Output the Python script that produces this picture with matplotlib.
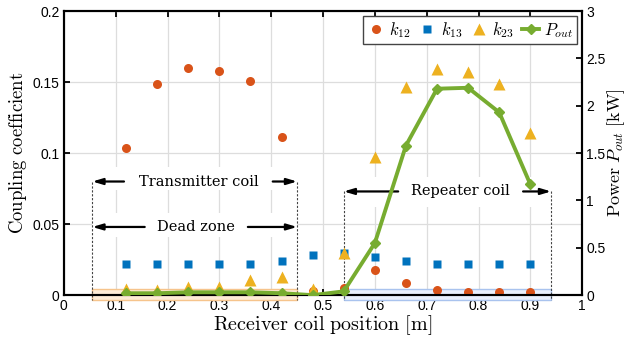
import matplotlib

matplotlib.use("Agg")
import matplotlib.pyplot as plt
from matplotlib.patches import Rectangle

# receiver positions [m]
position = [0.12, 0.18, 0.24, 0.30, 0.36, 0.42, 0.48, 0.54, 0.60, 0.66, 0.72, 0.78, 0.84, 0.90]
k12 = [0.1035, 0.149, 0.160, 0.158, 0.151, 0.111, 0.003, 0.005, 0.018, 0.0085, 0.0035, 0.0023, 0.0023, 0.0023]
k13 = [0.022, 0.022, 0.022, 0.022, 0.022, 0.024, 0.028, 0.0295, 0.027, 0.024, 0.022, 0.022, 0.022, 0.022]
k23 = [0.004, 0.0035, 0.006, 0.006, 0.0105, 0.0127, 0.004, 0.030, 0.097, 0.1465, 0.159, 0.157, 0.149, 0.114]
p_out = [0.02, 0.02, 0.03, 0.03, 0.03, 0.02, 0.0, 0.04, 0.55, 1.58, 2.18, 2.19, 1.93, 1.17]

x_ticks = [0, 0.1, 0.2, 0.3, 0.4, 0.5, 0.6, 0.7, 0.8, 0.9, 1]
x_labels = ["0", "0.1", "0.2", "0.3", "0.4", "0.5", "0.6", "0.7", "0.8", "0.9", "1"]
k_ticks = [0, 0.05, 0.1, 0.15, 0.2]
k_labels = ["0", "0.05", "0.1", "0.15", "0.2"]
p_ticks = [0, 0.5, 1, 1.5, 2, 2.5, 3]
p_labels = ["0", "0.5", "1", "1.5", "2", "2.5", "3"]

C_K12 = "#D95319"
C_K13 = "#0072BD"
C_K23 = "#EDB120"
C_POUT = "#77AC30"

plt.rcParams.update(
    {
        "font.family": "Liberation Sans",
        "font.size": 10,
        "mathtext.fontset": "cm",
        "xtick.direction": "in",
        "ytick.direction": "in",
        "xtick.major.size": 4,
        "ytick.major.size": 4,
        "xtick.major.width": 1.3,
        "ytick.major.width": 1.3,
    }
)

fig = plt.figure(figsize=(6.26, 3.46), dpi=100)
ax = fig.add_axes([0.102, 0.147, 0.828, 0.821])
ax2 = ax.twinx()

ax.set_xlim(0, 1)
ax.set_ylim(0, 0.2)
ax2.set_ylim(0, 3)
ax.set_xticks(x_ticks, x_labels)
ax.set_yticks(k_ticks, k_labels)
ax2.set_yticks(p_ticks, p_labels)
ax.tick_params(top=True, right=False, pad=3)
ax2.tick_params(pad=3)
ax.grid(True, color="#dddddd", linewidth=0.9, zorder=0)
ax.set_axisbelow(True)
for spine in list(ax.spines.values()) + list(ax2.spines.values()):
    spine.set_linewidth(1.5)
    spine.set_color("black")

# white strips behind the annotation rows
for x0, x1, y0, y1 in [(0.055, 0.45, 0.074, 0.090), (0.055, 0.45, 0.041, 0.058), (0.54, 0.94, 0.062, 0.083)]:
    ax.add_patch(Rectangle((x0, y0), x1 - x0, y1 - y0, facecolor="white", edgecolor="none", zorder=1))

# coil footprints
ax.add_patch(Rectangle((0.055, -0.0035), 0.395, 0.0075, facecolor="#FDEBD6", edgecolor="#F6C48C",
                       linewidth=1.0, zorder=1.2, clip_on=False))
ax.add_patch(Rectangle((0.54, -0.0035), 0.40, 0.0075, facecolor="#EAF0FC", edgecolor="#A9C3EE",
                       linewidth=1.0, zorder=1.2, clip_on=False))

for xv, ytop in [(0.055, 0.080), (0.45, 0.080), (0.54, 0.073), (0.94, 0.073)]:
    ax.plot([xv, xv], [ytop, -0.0035], linestyle=(0, (2, 1.5)), color="#444444", linewidth=0.8,
            zorder=1.5, clip_on=False)

arrow_style = dict(arrowstyle="-|>,head_length=0.6,head_width=0.18", color="black", linewidth=1.6,
                   shrinkA=0, shrinkB=0)
rows = [
    ("Transmitter coil", 0.080, 0.055, 0.116, 0.403, 0.45),
    ("Dead zone", 0.048, 0.055, 0.156, 0.355, 0.45),
    ("Repeater coil", 0.073, 0.54, 0.645, 0.886, 0.94),
]
for label, yv, xl, xl_in, xr_in, xr in rows:
    ax.annotate("", xy=(xl, yv), xytext=(xl_in, yv), arrowprops=arrow_style, zorder=2)
    ax.annotate("", xy=(xr, yv), xytext=(xr_in, yv), arrowprops=arrow_style, zorder=2)
    ax.text((xl_in + xr_in) / 2, yv, label, ha="center", va="center", fontsize=10.5,
            family="DejaVu Serif", zorder=3)

h1, = ax.plot(position, k12, "o", color=C_K12, markersize=6.5, markeredgecolor="none", zorder=4,
              label="$k_{12}$")
h2, = ax.plot(position, k13, "s", color=C_K13, markersize=5.5, markeredgecolor="none", zorder=4,
              label="$k_{13}$")
h3, = ax.plot(position, k23, "^", color=C_K23, markersize=8, markeredgecolor="none", zorder=4,
              label="$k_{23}$")
h4, = ax2.plot(position, p_out, "-D", color=C_POUT, linewidth=2.8, markersize=5, zorder=5,
               label="$P_{out}$")

ax.set_xlabel(r"$\mathrm{Receiver\ coil\ position\ [m]}$", fontsize=14.5, labelpad=0)
ax.set_ylabel(r"$\mathrm{Coupling\ coefficient}$", fontsize=13.5, labelpad=3)
ax2.set_ylabel(r"$\mathrm{Power}\ P_{out}\ \mathrm{[kW]}$", fontsize=13, labelpad=0)

leg = ax2.legend(handles=[h1, h2, h3, h4], loc="upper right", ncols=4, fontsize=12,
                 frameon=True, fancybox=False, edgecolor="#444444", framealpha=1,
                 handlelength=1.0, handletextpad=0.3, columnspacing=0.5,
                 borderpad=0.25, borderaxespad=0.3)
leg.get_frame().set_linewidth(1.0)

fig.savefig("out.png", dpi=100, facecolor="white")
